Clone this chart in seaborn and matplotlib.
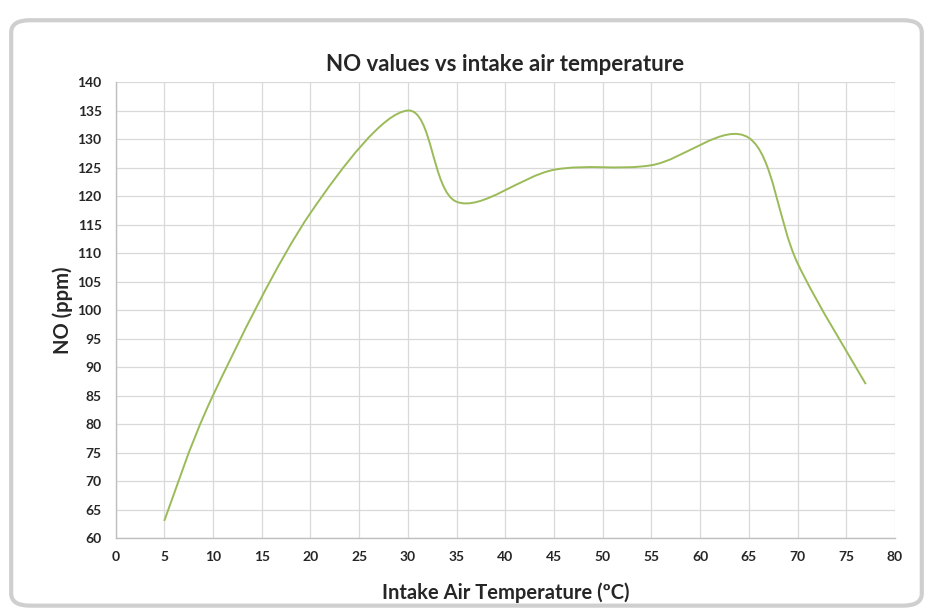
import numpy as np
import seaborn as sns
import matplotlib.pyplot as plt
from matplotlib.path import Path
from matplotlib.patches import PathPatch, FancyBboxPatch

# Data
temps = [5, 10, 20, 30, 35, 45, 55, 65, 70, 77]
no_ppm = [63, 85, 117, 135, 119, 124.6, 125.4, 130.2, 108.2, 87]

x_ticks = list(range(0, 81, 5))
y_ticks = list(range(60, 141, 5))

sns.set_style("whitegrid", {"grid.color": "#d9d9d9", "axes.edgecolor": "#bfbfbf"})
plt.rcParams['font.family'] = ['Lato', 'DejaVu Sans']

fig = plt.figure(figsize=(9.33, 6.13), dpi=100)
ax = fig.add_axes([0.1238, 0.1223, 0.9593 - 0.1238, 0.8662 - 0.1223])

# outer chart frame like the Excel chart area
frame = FancyBboxPatch((0.012, 0.012), 0.976, 0.955, boxstyle="round,pad=0,rounding_size=0.02",
                       transform=fig.transFigure, facecolor="none", edgecolor="#cfcfcf",
                       linewidth=3, zorder=0)
fig.patches.append(frame)


def smooth_path(xs, ys):
    # cubic bezier segments through the points, excel-like smoothing
    pts = np.column_stack([xs, ys]).astype(float)
    n = len(pts)
    verts = [pts[0]]
    codes = [Path.MOVETO]
    for i in range(n - 1):
        p0 = pts[i - 1] if i > 0 else pts[i]
        p1 = pts[i]
        p2 = pts[i + 1]
        p3 = pts[i + 2] if i + 2 < n else pts[i + 1]
        c1 = p1 + (p2 - p0) / 6.0
        c2 = p2 - (p3 - p1) / 6.0
        verts += [c1, c2, p2]
        codes += [Path.CURVE4] * 3
    return Path(verts, codes)


ax.add_patch(PathPatch(smooth_path(temps, no_ppm), facecolor="none",
                       edgecolor="#9bbb59", linewidth=1.4, zorder=3))

ax.set_xlim(0, 80)
ax.set_ylim(60, 140)
ax.set_xticks(x_ticks)
ax.set_yticks(y_ticks)
ax.tick_params(axis='y', labelsize=10, length=0, pad=10)
ax.tick_params(axis='x', labelsize=10, length=0, pad=9)
for lab in ax.get_xticklabels() + ax.get_yticklabels():
    lab.set_fontweight('bold')
ax.grid(True, linewidth=0.9)
for side in ['top', 'right']:
    ax.spines[side].set_visible(False)
for side in ['left', 'bottom']:
    ax.spines[side].set_color('#bfbfbf')
    ax.spines[side].set_linewidth(1)

ax.set_title('NO values vs intake air temperature', fontsize=16, fontweight='bold', pad=8)
ax.set_xlabel('Intake Air Temperature (ºC)', fontsize=14.5, fontweight='bold', labelpad=14)
ax.set_ylabel('NO (ppm)', fontsize=14.5, fontweight='bold', labelpad=3)

plt.savefig('out.png', dpi=100)
